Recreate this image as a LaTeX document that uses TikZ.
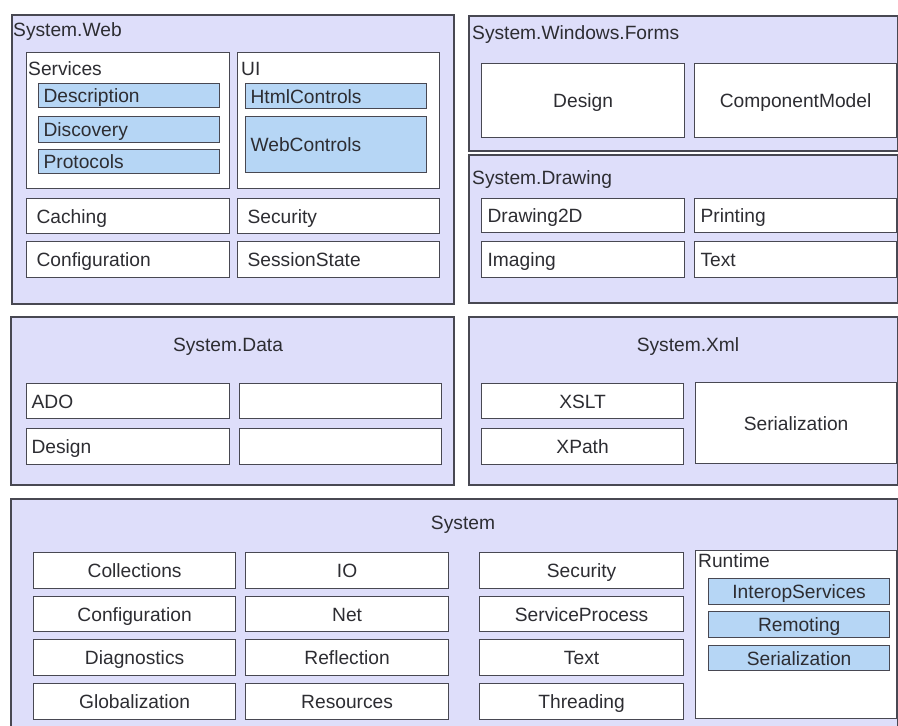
\documentclass[tikz,border=0pt]{standalone}
\usepackage{fontspec}
\setmainfont{Liberation Sans}
\usetikzlibrary{positioning}

\definecolor{pkgfill}{RGB}{222,222,250}
\definecolor{subfill}{RGB}{182,214,245}
\definecolor{edgegray}{RGB}{72,72,82}
\definecolor{inkgray}{RGB}{45,45,50}

\begin{document}
\begin{tikzpicture}[x=1pt, y=-1pt,
    every node/.style={font=\fontsize{19.2}{22}\selectfont, text=inkgray},
    pkg/.style={rectangle, draw=edgegray, line width=1.5pt, fill=pkgfill, anchor=north west, inner sep=0pt},
    box/.style={rectangle, draw=edgegray, line width=1.2pt, fill=white, anchor=north west, inner sep=0pt, text height=15.5pt, text depth=1.7pt},
    cbox/.style 2 args={box, minimum width=#1, minimum height=#2},
    lbox/.style={box, align=left, inner xsep=10pt, text width=183pt, minimum height=#1},
    sub/.style={box, fill=subfill, align=left, inner xsep=5pt, text width=171pt, minimum height=#1},
    csub/.style={box, fill=subfill, minimum width=181, minimum height=#1},
    title/.style={inner sep=0pt, anchor=west}
]
\useasboundingbox (0,0) rectangle (898,726);

% System.Web
\node[pkg, minimum width=442, minimum height=289] (web) at (11,14) {};
\node[title] (webt) at (13,32) {System.Web};
\node[cbox={203}{136}] (svc) at (26,52) {};
\node[title] (svct) at (28,69) {Services};
\node[sub=24] (desc) at (38,83) {Description};
\node[sub=26] (disc) at (38,116) {Discovery};
\node[sub=24] (prot) at (38,149) {Protocols};
\node[cbox={202}{136}] (ui) at (237,52) {};
\node[title] (uit) at (241,69) {UI};
\node[sub=25] (html) at (245,83) {HtmlControls};
\node[sub=56] (webc) at (245,116) {WebControls};
\node[lbox=35] (cach) at (26,198) {Caching};
\node[lbox=35, text width=182pt] (wsec) at (237,198) {Security};
\node[lbox=36] (wcfg) at (26,241) {Configuration};
\node[lbox=36, text width=182pt] (sess) at (237,241) {SessionState};

% System.Windows.Forms
\node[pkg, minimum width=429, minimum height=135] (forms) at (468,15) {};
\node[title] (formst) at (472,35) {System.Windows.Forms};
\node[cbox={203}{74}] (fdes) at (481,63) {Design};
\node[cbox={202}{74}] (fcomp) at (694,63) {ComponentModel};

% System.Drawing
\node[pkg, minimum width=429, minimum height=148] (draw) at (468,154) {};
\node[title] (drawt) at (472,180) {System.Drawing};
\node[lbox=34, inner xsep=6pt, text width=191pt] (d2d) at (481,198) {Drawing2D};
\node[lbox=34, inner xsep=6pt, text width=190pt] (prnt) at (694,198) {Printing};
\node[lbox=36, inner xsep=6pt, text width=191pt] (imag) at (481,241) {Imaging};
\node[lbox=36, inner xsep=6pt, text width=190pt] (dtxt) at (694,241) {Text};

% System.Data
\node[pkg, minimum width=443, minimum height=168] (data) at (10,316) {};
\node[inner sep=0pt] (datat) at (228,347) {System.Data};
\node[lbox=35, inner xsep=5pt, text width=193pt] (ado) at (26,383) {ADO};
\node[cbox={202}{35}] (dem1) at (239,383) {};
\node[lbox=36, inner xsep=5pt, text width=193pt] (ddes) at (26,428) {Design};
\node[cbox={202}{36}] (dem2) at (239,428) {};

% System.Xml
\node[pkg, minimum width=429, minimum height=168] (xml) at (468,316) {};
\node[inner sep=0pt] (xmlt) at (688,347) {System.Xml};
\node[cbox={202}{35}] (xslt) at (481,383) {XSLT};
\node[cbox={202}{36}] (xpath) at (481,428) {XPath};
\node[cbox={201}{81}] (xser) at (695,382) {Serialization};

% System
\node[pkg, minimum width=887, minimum height=245] (sys) at (10,498) {};
\node[inner sep=0pt] (syst) at (463,525) {System};
\node[cbox={202}{36}] (coll) at (33,552) {Collections};
\node[cbox={202}{35}] (scfg) at (33,596) {Configuration};
\node[cbox={202}{36}] (diag) at (33,639) {Diagnostics};
\node[cbox={202}{36}] (glob) at (33,683) {Globalization};
\node[cbox={203}{36}] (io) at (245,552) {IO};
\node[cbox={203}{35}] (net) at (245,596) {Net};
\node[cbox={203}{36}] (refl) at (245,639) {Reflection};
\node[cbox={203}{36}] (res) at (245,683) {Resources};
\node[cbox={204}{36}] (ssec) at (479,552) {Security};
\node[cbox={204}{35}] (sproc) at (479,596) {ServiceProcess};
\node[cbox={204}{36}] (stxt) at (479,639) {Text};
\node[cbox={204}{36}] (thrd) at (479,683) {Threading};

% Runtime
\node[cbox={201}{168}] (rt) at (695,550) {};
\node[title] (rtt) at (698,561) {Runtime};
\node[csub=26] (interop) at (708,578) {InteropServices};
\node[csub=26] (remot) at (708,611) {Remoting};
\node[csub=25] (rser) at (708,645) {Serialization};

\end{tikzpicture}
\end{document}
